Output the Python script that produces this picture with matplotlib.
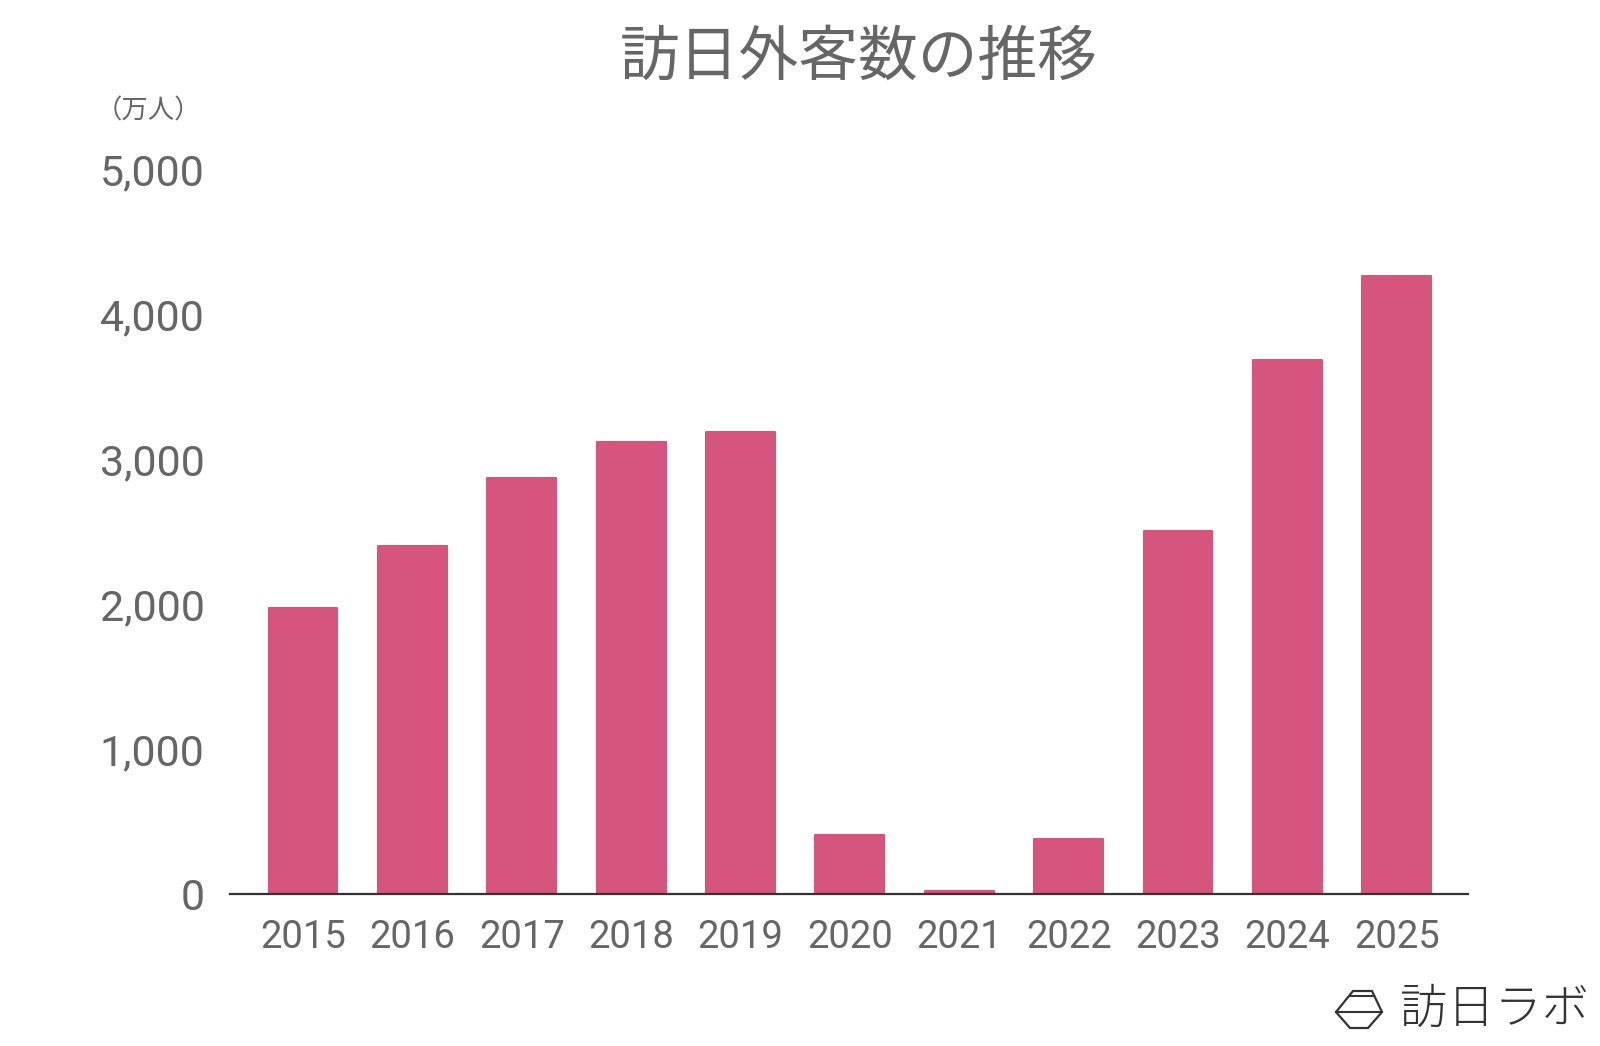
#!/usr/bin/env python3
# -*-coding:utf-8-*-
import numpy as np
import matplotlib
matplotlib.use('Agg')
import matplotlib.pyplot as plt
from matplotlib.patches import Polygon
from matplotlib.lines import Line2D

plt.rcParams['font.family'] = ['Noto Sans CJK JP', 'DejaVu Sans']

years = ['2015', '2016', '2017', '2018', '2019', '2020',
         '2021', '2022', '2023', '2024', '2025']
visitors = [1974, 2404, 2869, 3119, 3188, 412, 25, 383, 2507, 3687, 4268]  # 万人
yticks = [0, 1000, 2000, 3000, 4000, 5000]

bar_color = '#D6557E'
text_gray = '#666666'
W, H = 1600.0, 1046.0

fig = plt.figure(figsize=(16, 10.46), dpi=100)
ax = fig.add_axes([0.1436, 0.1451, 0.9177 - 0.1436, 0.838 - 0.1451])

x = np.arange(len(years))
bars = ax.bar(x, visitors, width=0.63, color=bar_color, edgecolor=bar_color,
              linewidth=1.5, zorder=2)
for b in bars:
    b.set_joinstyle('round')

ax.set_xlim(-0.67, len(years) - 1 + 0.655)
ax.set_ylim(0, 5000)
ax.set_xticks(x)
ax.set_xticklabels(years, family=['Roboto', 'DejaVu Sans'], fontsize=27.5, color=text_gray)
ax.set_yticks(yticks)
ax.set_yticklabels(['{:,}'.format(v) for v in yticks], family=['Roboto', 'DejaVu Sans'],
                   fontsize=31, color=text_gray)
ax.tick_params(axis='both', length=0)
ax.tick_params(axis='x', pad=18)
ax.tick_params(axis='y', pad=18)
for s in ['top', 'right', 'left']:
    ax.spines[s].set_visible(False)
ax.spines['bottom'].set_color('#333333')
ax.spines['bottom'].set_linewidth(1.6)
ax.spines['bottom'].set_zorder(3)

fig.text(0.537, 0.944, '訪日外客数の推移', ha='center', va='center',
         fontsize=43, color=text_gray)
fig.text(0.093, 0.894, '（万人）', ha='center', va='center',
         fontsize=19, color=text_gray)

# logo: 訪日ラボ
logo = '#333333'
hexa = [(1353, 991), (1372, 991), (1382, 1012), (1368, 1028), (1350, 1028), (1336, 1012)]
fig.patches.append(Polygon([(px / W, 1 - py / H) for px, py in hexa], closed=True,
                           fill=False, edgecolor=logo, linewidth=1.6,
                           transform=fig.transFigure))
for x0, x1, yy in [(1351, 1374, 996), (1336, 1382, 1012)]:
    fig.lines.append(Line2D([x0 / W, x1 / W], [1 - yy / H, 1 - yy / H],
                            color=logo, linewidth=1.5, transform=fig.transFigure))
fig.text(1400 / W, 1 - 1009 / H, '訪日ラボ', ha='left', va='center',
         fontsize=34, fontweight='light', color=logo)

fig.savefig('out.png', dpi=100, facecolor='white')
